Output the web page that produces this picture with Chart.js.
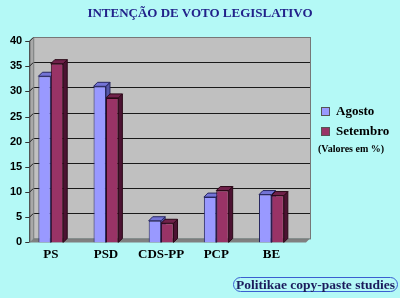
<!DOCTYPE html>
<html>
<head>
<meta charset="utf-8">
<script src="https://cdn.jsdelivr.net/npm/chart.js@4"></script>
<style>
  html, body { margin: 0; padding: 0; background: #b4f9f6; }
  #wrap { position: relative; width: 400px; height: 298px; font-family: "Liberation Serif", "Times New Roman", serif; }
  #chart { position: absolute; left: 0; top: 0; }
  #title { position: absolute; top: 5px; left: 0; width: 400px; text-align: center;
           font-weight: bold; font-size: 13px; color: #22228a; }
  #legend { position: absolute; left: 321px; top: 101px; font-weight: bold; color: #000; }
  #legend .item { display: flex; align-items: center; height: 20px; font-size: 13px; }
  #legend .box { width: 7px; height: 7px; border: 1px solid #555; margin-right: 6px; }
  #legend .note { font-size: 10px; margin-top: 2px; margin-left: -3px; }
  #caption { position: absolute; left: 233px; top: 277px; padding: 0 2px; line-height: 13px;
             border: 1.5px solid #3a5fd0; border-radius: 8px; font-weight: bold; font-size: 13.5px; color: #1b1b5c; }
</style>
</head>
<body>
<div id="wrap">
  <canvas id="chart" width="400" height="298"></canvas>
  <div id="title">INTENÇÃO DE VOTO LEGISLATIVO</div>
  <div id="legend"></div>
  <div id="caption">Politikae copy-paste studies</div>
</div>
<script>
// dados (%)
const categories = ["PS", "PSD", "CDS-PP", "PCP", "BE"];
const agosto = [33, 31, 4.3, 9, 9.5];
const setembro = [35.5, 28.7, 3.8, 10.3, 9.3];
const seriesNames = ["Agosto", "Setembro"];
const yMax = 40, yStep = 5;

const fronts = ["#9999ff", "#993366"];
const tops = ["#7474d6", "#70214a"];
const sides = ["#5656a8", "#4c1232"];
const edges = ["#262660", "#2a0816"];

const DX = 4, DY = -4;   // głębokość "3D"

/* ---- ściany, siatka i boki słupków ---- */
const wall3d = {
    id: "wall3d",
    beforeDatasetsDraw(chart) {
        const { ctx, chartArea: a, scales: { y } } = chart;
        const fl = a.left + 6, bl = fl + DX, br = a.right + 11, fr = br - DX;
        const top = a.top, bot = a.bottom;

        ctx.save();
        // tylna ściana
        ctx.fillStyle = "#c0c0c0";
        ctx.fillRect(bl, top + DY, br - bl, bot - top);
        // lewa ściana
        ctx.fillStyle = "#a8a8a8";
        ctx.beginPath();
        ctx.moveTo(fl, top); ctx.lineTo(bl, top + DY); ctx.lineTo(bl, bot + DY); ctx.lineTo(fl, bot);
        ctx.closePath(); ctx.fill();
        // podłoga
        ctx.fillStyle = "#808080";
        ctx.beginPath();
        ctx.moveTo(fl, bot); ctx.lineTo(bl, bot + DY); ctx.lineTo(br, bot + DY); ctx.lineTo(fr, bot);
        ctx.closePath(); ctx.fill();

        // linie siatki
        ctx.strokeStyle = "#1a1a1a";
        ctx.lineWidth = 1;
        for (let v = yStep; v <= yMax; v += yStep) {
            const py = Math.round(y.getPixelForValue(v)) + 0.5;
            ctx.beginPath();
            ctx.moveTo(fl, py); ctx.lineTo(bl, py + DY); ctx.lineTo(br, py + DY);
            ctx.stroke();
        }
        // ramka ściany
        ctx.strokeStyle = "#777";
        ctx.strokeRect(bl + 0.5, top + DY + 0.5, br - bl, bot - top);

        // oś Y z kreskami
        ctx.strokeStyle = "#333";
        ctx.beginPath();
        ctx.moveTo(fl + 0.5, top); ctx.lineTo(fl + 0.5, bot);
        for (let v = 0; v <= yMax; v += yStep) {
            const py = Math.round(y.getPixelForValue(v)) + 0.5;
            ctx.moveTo(fl - 4, py); ctx.lineTo(fl, py);
        }
        ctx.stroke();

        // boki i wierzchy słupków
        chart.data.datasets.forEach((ds, di) => {
            chart.getDatasetMeta(di).data.forEach(el => {
                const { x, y: ty, base, width } = el.getProps(["x", "y", "base", "width"], true);
                const l = x - width / 2, r = x + width / 2;
                ctx.strokeStyle = edges[di];
                ctx.fillStyle = sides[di];
                ctx.beginPath();
                ctx.moveTo(r, ty); ctx.lineTo(r + DX, ty + DY); ctx.lineTo(r + DX, base + DY); ctx.lineTo(r, base);
                ctx.closePath(); ctx.fill(); ctx.stroke();
                ctx.fillStyle = tops[di];
                ctx.beginPath();
                ctx.moveTo(l, ty); ctx.lineTo(l + DX, ty + DY); ctx.lineTo(r + DX, ty + DY); ctx.lineTo(r, ty);
                ctx.closePath(); ctx.fill(); ctx.stroke();
            });
        });
        ctx.restore();
    }
};

const chart = new Chart(document.getElementById("chart"), {
    type: "bar",
    data: {
        labels: categories,
        datasets: [
            { label: seriesNames[0], data: agosto, backgroundColor: fronts[0], borderColor: edges[0], borderWidth: 1 },
            { label: seriesNames[1], data: setembro, backgroundColor: fronts[1], borderColor: edges[1], borderWidth: 1 }
        ]
    },
    options: {
        responsive: false,
        animation: false,
        categoryPercentage: 0.45,
        barPercentage: 1,
        layout: { padding: { left: 9, right: 101, top: 41, bottom: 32 } },
        scales: {
            x: {
                grid: { display: false, drawTicks: false },
                border: { display: false },
                ticks: { color: "#000", padding: 4, font: { family: "Liberation Serif", size: 13, weight: "bold" } }
            },
            y: {
                min: 0, max: yMax,
                grid: { display: false, drawTicks: false },
                border: { display: false },
                ticks: { stepSize: yStep, color: "#000", padding: 1, font: { family: "Liberation Sans", size: 11, weight: "bold" } }
            }
        },
        plugins: { legend: { display: false }, tooltip: { enabled: false } }
    },
    plugins: [wall3d]
});

// legenda HTML z danych wykresu
const lg = document.getElementById("legend");
chart.data.datasets.forEach((ds, i) => {
    lg.insertAdjacentHTML("beforeend",
        `<div class="item"><span class="box" style="background:${ds.backgroundColor}"></span>${ds.label}</div>`);
});
lg.insertAdjacentHTML("beforeend", `<div class="note">(Valores em %)</div>`);
</script>
</body>
</html>
